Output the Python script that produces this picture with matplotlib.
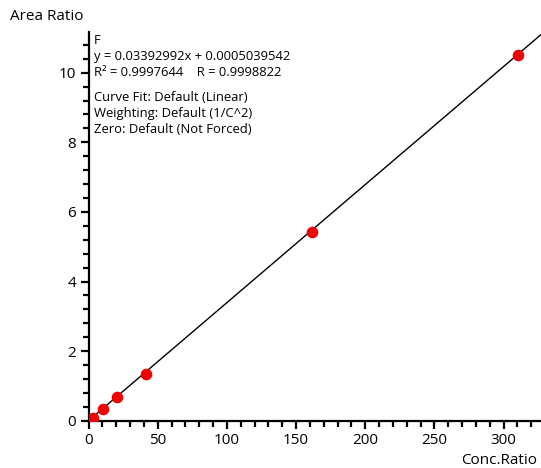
import numpy as np
import matplotlib.pyplot as plt
from matplotlib.ticker import MultipleLocator

plt.rcParams['font.family'] = ['Open Sans', 'DejaVu Sans']

# calibration points
conc_ratio = [3.5, 10.7, 20.4, 41.6, 161.4, 310.3]
area_ratio = [0.08, 0.33, 0.68, 1.33, 5.41, 10.51]

# fit from the legend text
slope = 0.03392992
intercept = 0.0005039542

info_lines = [
    "F",
    "y = 0.03392992x + 0.0005039542",
    "R\u00b2 = 0.9997644    R = 0.9998822",
]
fit_lines = [
    "Curve Fit: Default (Linear)",
    "Weighting: Default (1/C^2)",
    "Zero: Default (Not Forced)",
]

fig = plt.figure(figsize=(5.41, 4.68), dpi=100)
ax = fig.add_axes([0.1636, 0.101, 0.8364, 0.8306])

xmax = 327
xs = np.array([0, xmax])
ax.plot(xs, slope * xs + intercept, color='black', lw=1.0, zorder=2)
ax.scatter(conc_ratio, area_ratio, s=70, color='#f00000', zorder=3, linewidths=0)

ax.set_xlim(0, xmax)
ax.set_ylim(0, 11.17)
ax.xaxis.set_major_locator(MultipleLocator(50))
ax.xaxis.set_minor_locator(MultipleLocator(10))
ax.yaxis.set_major_locator(MultipleLocator(2))
ax.yaxis.set_minor_locator(MultipleLocator(0.4))

for s in ['top', 'right']:
    ax.spines[s].set_visible(False)
for s in ['left', 'bottom']:
    ax.spines[s].set_linewidth(1.6)

ax.tick_params(which='major', length=6, width=1.6, labelsize=11, pad=3)
ax.tick_params(which='minor', length=4, width=1.6)

fig.text(0.018, 0.964, "Area Ratio", fontsize=11, ha='left', va='center')
fig.text(0.993, 0.017, "Conc.Ratio", fontsize=11, ha='right', va='center')

y0 = 0.9145
for i, t in enumerate(info_lines):
    fig.text(0.173, y0 - i * 0.0342, t, fontsize=9.4, ha='left', va='center')
y1 = 0.7927
for i, t in enumerate(fit_lines):
    fig.text(0.173, y1 - i * 0.0342, t, fontsize=9.4, ha='left', va='center')

fig.savefig('out.png', dpi=100)
